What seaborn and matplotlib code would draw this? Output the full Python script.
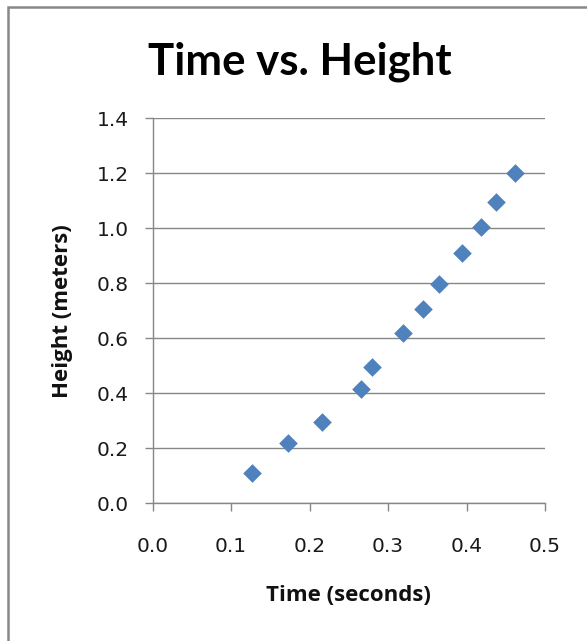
import matplotlib
matplotlib.use("Agg")
import matplotlib.pyplot as plt
import seaborn as sns
import pandas as pd
from matplotlib.patches import Rectangle

time_s = [0.126, 0.172, 0.216, 0.265, 0.2795, 0.319, 0.345, 0.3645, 0.394, 0.419, 0.4375, 0.462]
height_m = [0.111, 0.220, 0.297, 0.415, 0.495, 0.619, 0.708, 0.799, 0.910, 1.004, 1.097, 1.200]
x_ticks = [0.0, 0.1, 0.2, 0.3, 0.4, 0.5]
y_ticks = [0.0, 0.2, 0.4, 0.6, 0.8, 1.0, 1.2, 1.4]

sns.set_theme(style="white")
plt.rcParams['font.family'] = ['Open Sans', 'DejaVu Sans']

df = pd.DataFrame({"Time": time_s, "Height": height_m})

fig = plt.figure(figsize=(5.87, 6.41), dpi=100)
ax = fig.add_axes([152.7 / 587, 1 - 503.3 / 641, (545 - 152.7) / 587, (503.3 - 118.3) / 641])

grid_c = "#878787"
ax.set_axisbelow(True)
for yv in y_ticks:
    ax.axhline(yv, color=grid_c, lw=1.0, zorder=0)

sns.scatterplot(data=df, x="Time", y="Height", marker="D", s=90,
                color="#4F81BD", linewidth=0, ax=ax, zorder=3, clip_on=False)

ax.set_xlim(0.0, 0.5)
ax.set_ylim(0.0, 1.4)
ax.set_xticks(x_ticks)
ax.set_yticks(y_ticks)
ax.set_xticklabels([f"{v:.1f}" for v in x_ticks], family=['DejaVu Sans'])
ax.set_yticklabels([f"{v:.1f}" for v in y_ticks], family=['DejaVu Sans'])

for s in ["top", "right"]:
    ax.spines[s].set_visible(False)
for s in ["left", "bottom"]:
    ax.spines[s].set_color(grid_c)
    ax.spines[s].set_linewidth(1.0)

ax.tick_params(axis="both", which="major", direction="out", length=5.5, width=1.0,
               color=grid_c, labelsize=14.5, labelcolor="#1a1a1a")
ax.tick_params(axis="x", pad=19)
ax.tick_params(axis="y", pad=11.5)
ax.xaxis.set_ticks_position("bottom")
ax.yaxis.set_ticks_position("left")

ax.set_xlabel("Time (seconds)", fontsize=16, fontweight="bold", color="#111111")
ax.set_ylabel("Height (meters)", fontsize=16, fontweight="bold", color="#111111")
ax.xaxis.set_label_coords(0.5, (503.3 - 585) / 385)
ax.yaxis.set_label_coords((73 - 152.7) / 392.3, 0.5)

fig.text(300 / 587, 1 - 75 / 641, "Time vs. Height", fontsize=31.5, fontweight="bold",
         family=['Lato', 'DejaVu Sans'], ha="center", va="baseline", color="#000000")

fig.patches.append(Rectangle((8 / 587, -0.1), 1.2, (1 - 7 / 641) + 0.1, transform=fig.transFigure,
                             fill=False, edgecolor="#888888", linewidth=1.8, zorder=10))

fig.savefig("out.png", dpi=100)
